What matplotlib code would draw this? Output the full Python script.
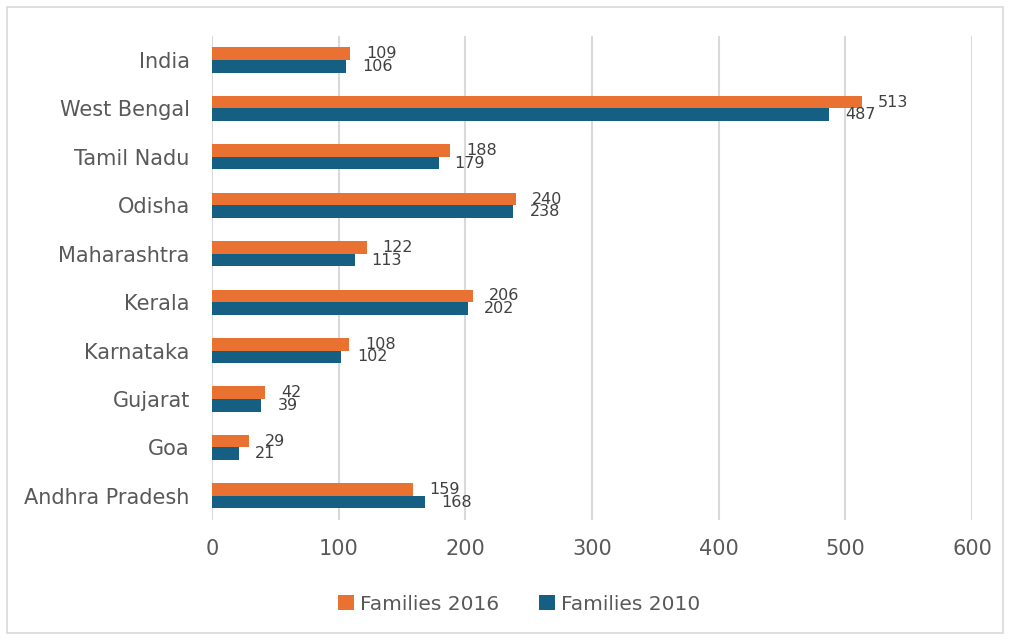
import matplotlib.pyplot as plt
from matplotlib.patches import Rectangle
import numpy as np

# Families per state, top to bottom
states = ["India", "West Bengal", "Tamil Nadu", "Odisha", "Maharashtra",
          "Kerala", "Karnataka", "Gujarat", "Goa", "Andhra Pradesh"]
families_2016 = [109, 513, 188, 240, 122, 206, 108, 42, 29, 159]
families_2010 = [106, 487, 179, 238, 113, 202, 102, 39, 21, 168]
x_ticks = [0, 100, 200, 300, 400, 500, 600]

orange = "#E97132"
blue = "#156082"
text_grey = "#595959"

fig = plt.figure(figsize=(10.1, 6.4), dpi=100)
ax = fig.add_axes([0.2099, 0.1875, 0.7525, 0.7565])

y = np.arange(len(states))
h = 0.26
b16 = ax.barh(y - h / 2, families_2016, height=h, color=orange,
              label="Families 2016", zorder=3)
b10 = ax.barh(y + h / 2, families_2010, height=h, color=blue,
              label="Families 2010", zorder=3)

for bars, vals in ((b16, families_2016), (b10, families_2010)):
    for bar, v in zip(bars, vals):
        ax.annotate(str(v), xy=(v, bar.get_y() + bar.get_height() / 2),
                    xytext=(16, 0), textcoords="offset pixels",
                    ha="left", va="center", fontsize=11.5, color="#404040")

ax.set_xlim(0, 600)
ax.set_ylim(len(states) - 0.5, -0.5)
ax.set_xticks(x_ticks)
ax.set_yticks(y)
ax.set_yticklabels(states)
ax.tick_params(axis="both", length=0, labelsize=15, labelcolor=text_grey)
ax.tick_params(axis="y", pad=16)
ax.tick_params(axis="x", pad=14)
ax.grid(axis="x", color="#D9D9D9", linewidth=1.5, zorder=0)
for s in ax.spines.values():
    s.set_visible(False)

ax.legend(loc="center", bbox_to_anchor=(519 / 1010, 1 - 604 / 640),
          bbox_transform=fig.transFigure, ncol=2, frameon=False,
          fontsize=14.5, labelcolor=text_grey, handlelength=0.8,
          handleheight=0.8, handletextpad=0.3, columnspacing=2.0)

# light border round the chart area
fig.patches.append(Rectangle((7 / 1010, 7 / 640), 996 / 1010, 626 / 640,
                             transform=fig.transFigure, fill=False,
                             edgecolor="#D9D9D9", linewidth=1.2))

fig.savefig("out.png", dpi=100)
